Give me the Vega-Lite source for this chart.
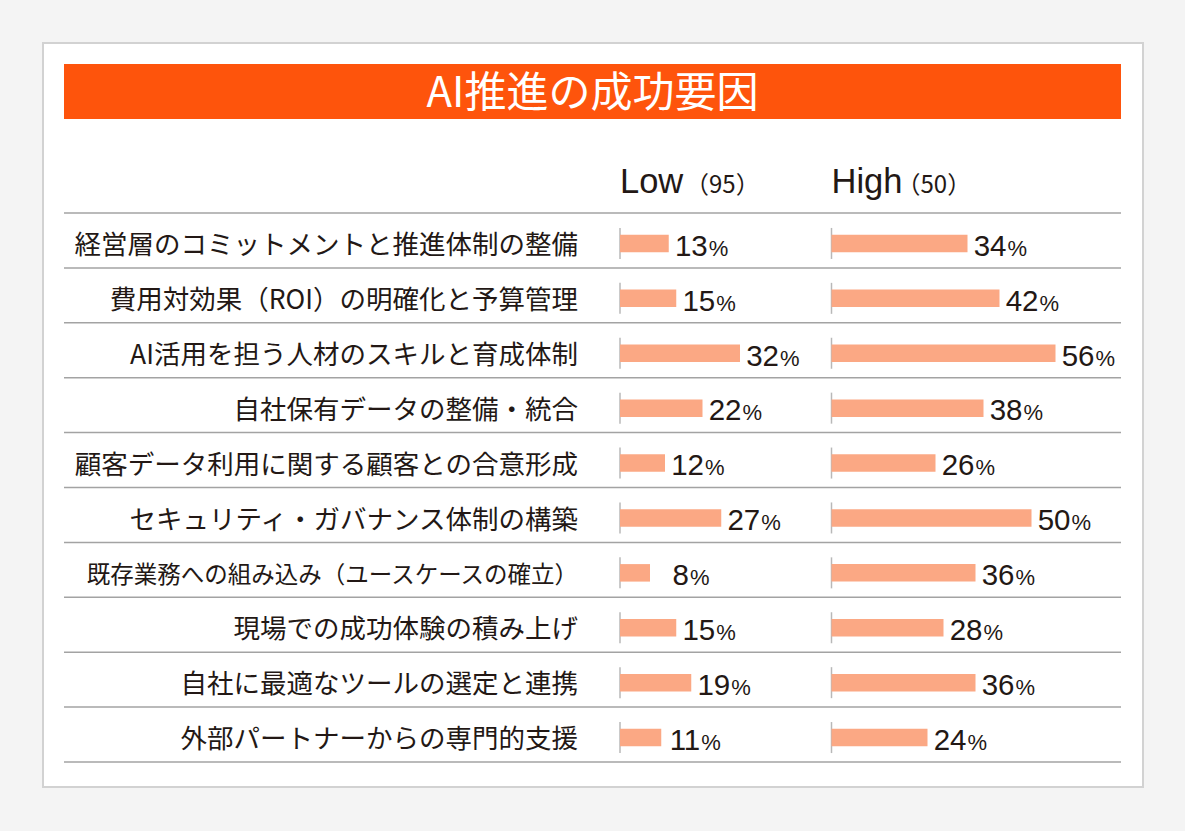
{
  "$schema": "https://vega.github.io/schema/vega-lite/v6.json",
  "width": 1100,
  "height": 744,
  "autosize": {"type": "none"},
  "padding": {"left": 43, "top": 43, "right": 42, "bottom": 44},
  "background": "#f4f4f4",
  "config": {
    "view": {"fill": "#ffffff", "stroke": "#d2d2d2", "strokeWidth": 2},
    "axis": {"disable": true}
  },
  "datasets": {
    "title": [{"title": "AI推進の成功要因"}],
    "groups": [{"group": "Low", "n": "（95）"}, {"group": "High", "n": "（50）"}],
    "rows": [
      {"item": "経営層のコミットメントと推進体制の整備", "group": "Low", "value": 13},
      {"item": "経営層のコミットメントと推進体制の整備", "group": "High", "value": 34},
      {"item": "費用対効果（ROI）の明確化と予算管理", "group": "Low", "value": 15},
      {"item": "費用対効果（ROI）の明確化と予算管理", "group": "High", "value": 42},
      {"item": "AI活用を担う人材のスキルと育成体制", "group": "Low", "value": 32},
      {"item": "AI活用を担う人材のスキルと育成体制", "group": "High", "value": 56},
      {"item": "自社保有データの整備・統合", "group": "Low", "value": 22},
      {"item": "自社保有データの整備・統合", "group": "High", "value": 38},
      {"item": "顧客データ利用に関する顧客との合意形成", "group": "Low", "value": 12},
      {"item": "顧客データ利用に関する顧客との合意形成", "group": "High", "value": 26},
      {"item": "セキュリティ・ガバナンス体制の構築", "group": "Low", "value": 27},
      {"item": "セキュリティ・ガバナンス体制の構築", "group": "High", "value": 50},
      {"item": "既存業務への組み込み（ユースケースの確立）", "group": "Low", "value": 8},
      {"item": "既存業務への組み込み（ユースケースの確立）", "group": "High", "value": 36},
      {"item": "現場での成功体験の積み上げ", "group": "Low", "value": 15},
      {"item": "現場での成功体験の積み上げ", "group": "High", "value": 28},
      {"item": "自社に最適なツールの選定と連携", "group": "Low", "value": 19},
      {"item": "自社に最適なツールの選定と連携", "group": "High", "value": 36},
      {"item": "外部パートナーからの専門的支援", "group": "Low", "value": 11},
      {"item": "外部パートナーからの専門的支援", "group": "High", "value": 24}
    ]
  },
  "resolve": {"scale": {"x": "independent", "y": "independent"}},
  "layer": [
    {
      "data": {"name": "title"},
      "layer": [
        {
          "mark": {"type": "rect", "color": "#fe540c"},
          "encoding": {
            "x": {"datum": 0, "type": "quantitative", "scale": {"domain": [0, 1], "range": [21, 1078]}},
            "x2": {"datum": 1},
            "y": {"datum": 0, "type": "quantitative", "scale": {"domain": [0, 1], "range": [21, 76]}},
            "y2": {"datum": 1}
          }
        },
        {
          "mark": {"type": "text", "color": "#ffffff", "font": "Noto Sans CJK JP", "fontSize": 42, "fontWeight": 400, "align": "center", "baseline": "alphabetic", "dy": 15.5},
          "encoding": {
            "x": {"datum": 0.5, "type": "quantitative", "scale": {"domain": [0, 1], "range": [21, 1078]}},
            "y": {"datum": 0.5, "type": "quantitative", "scale": {"domain": [0, 1], "range": [21, 76]}},
            "text": {"field": "title", "type": "nominal"}
          }
        }
      ]
    },
    {
      "data": {"name": "rows"},
      "encoding": {
        "y": {
          "field": "item",
          "type": "nominal",
          "scale": {
            "domain": ["header", "経営層のコミットメントと推進体制の整備", "費用対効果（ROI）の明確化と予算管理", "AI活用を担う人材のスキルと育成体制", "自社保有データの整備・統合", "顧客データ利用に関する顧客との合意形成", "セキュリティ・ガバナンス体制の構築", "既存業務への組み込み（ユースケースの確立）", "現場での成功体験の積み上げ", "自社に最適なツールの選定と連携", "外部パートナーからの専門的支援"],
            "range": [115.1, 719],
            "paddingInner": 0,
            "paddingOuter": 0
          }
        }
      },
      "resolve": {"scale": {"x": "independent"}},
      "layer": [
        {
          "transform": [{"filter": "datum.group === 'Low'"}],
          "mark": {"type": "rule", "color": "#a3a3a3", "strokeWidth": 1.5},
          "encoding": {
            "y": {"field": "item", "type": "nominal", "bandPosition": 0},
            "x": {"datum": 0, "type": "quantitative", "scale": {"domain": [0, 1], "range": [21, 1078]}},
            "x2": {"datum": 1}
          }
        },
        {
          "transform": [{"filter": "datum.group === 'Low' && datum.item === '外部パートナーからの専門的支援'"}],
          "mark": {"type": "rule", "color": "#a3a3a3", "strokeWidth": 1.5},
          "encoding": {
            "y": {"field": "item", "type": "nominal", "bandPosition": 1},
            "x": {"datum": 0, "type": "quantitative", "scale": {"domain": [0, 1], "range": [21, 1078]}},
            "x2": {"datum": 1}
          }
        },
        {
          "data": {"name": "groups"},
          "mark": {"type": "text", "font": "Liberation Sans", "fontSize": 34.5, "color": "#231815", "align": "left", "baseline": "alphabetic", "dx": 0, "dy": 7.4},
          "encoding": {
            "y": {"datum": "header", "type": "nominal"},
            "x": {"field": "group", "type": "nominal", "scale": {"type": "point", "domain": ["Low", "High"], "range": [577, 788.5], "padding": 0}},
            "text": {"field": "group", "type": "nominal"}
          }
        },
        {
          "data": {"name": "groups"},
          "mark": {"type": "text", "font": "Noto Sans CJK JP", "fontSize": 24, "color": "#231815", "align": "left", "baseline": "alphabetic", "dx": 65, "dy": 7.4},
          "encoding": {
            "y": {"datum": "header", "type": "nominal"},
            "x": {"field": "group", "type": "nominal", "scale": {"type": "point", "domain": ["Low", "High"], "range": [577, 788.5], "padding": 0}},
            "text": {"field": "n", "type": "nominal"}
          }
        },
        {
          "transform": [{"filter": "datum.group === 'Low'"}],
          "mark": {"type": "text", "font": "Noto Sans CJK JP", "color": "#231815", "align": "right", "baseline": "alphabetic", "dx": -42, "dy": 13.6},
          "encoding": {
            "x": {"datum": "Low", "type": "nominal", "scale": {"type": "point", "domain": ["Low", "High"], "range": [577, 788.5], "padding": 0}},
            "text": {"field": "item", "type": "nominal"},
            "size": {"condition": {"test": "datum.item === '既存業務への組み込み（ユースケースの確立）'", "value": 23.5}, "value": 26.5}
          }
        },
        {
          "mark": {"type": "tick", "orient": "vertical", "color": "#9a9a9a", "size": 31, "thickness": 1.5, "yOffset": 3},
          "encoding": {
            "x": {"field": "group", "type": "nominal", "scale": {"type": "point", "domain": ["Low", "High"], "range": [577, 788.5], "padding": 0}}
          }
        },
        {
          "transform": [{"filter": "datum.group === 'Low'"}],
          "mark": {"type": "bar", "color": "#fba884", "height": 17.5, "yOffset": 3},
          "encoding": {
            "x": {"field": "value", "type": "quantitative", "scale": {"domain": [0, 100], "range": [577, 952]}}
          }
        },
        {
          "transform": [{"filter": "datum.group === 'High'"}],
          "mark": {"type": "bar", "color": "#fba884", "height": 17.5, "yOffset": 3},
          "encoding": {
            "x": {"field": "value", "type": "quantitative", "scale": {"domain": [0, 100], "range": [788.5, 1188.5]}}
          }
        },
        {
          "transform": [{"filter": "datum.group === 'Low'"}],
          "mark": {"type": "text", "font": "Liberation Sans", "fontSize": 29.5, "color": "#231815", "align": "right", "baseline": "alphabetic", "dx": 39, "dy": 15.3},
          "encoding": {
            "x": {"field": "value", "type": "quantitative", "scale": {"domain": [0, 100], "range": [577, 952]}},
            "text": {"field": "value", "type": "quantitative", "format": "d"}
          }
        },
        {
          "transform": [{"filter": "datum.group === 'Low'"}],
          "mark": {"type": "text", "font": "Liberation Sans", "fontSize": 22, "color": "#231815", "align": "left", "baseline": "alphabetic", "dx": 40, "dy": 15.3},
          "encoding": {
            "x": {"field": "value", "type": "quantitative", "scale": {"domain": [0, 100], "range": [577, 952]}},
            "text": {"value": "%"}
          }
        },
        {
          "transform": [{"filter": "datum.group === 'High'"}],
          "mark": {"type": "text", "font": "Liberation Sans", "fontSize": 29.5, "color": "#231815", "align": "right", "baseline": "alphabetic", "dx": 39, "dy": 15.3},
          "encoding": {
            "x": {"field": "value", "type": "quantitative", "scale": {"domain": [0, 100], "range": [788.5, 1188.5]}},
            "text": {"field": "value", "type": "quantitative", "format": "d"}
          }
        },
        {
          "transform": [{"filter": "datum.group === 'High'"}],
          "mark": {"type": "text", "font": "Liberation Sans", "fontSize": 22, "color": "#231815", "align": "left", "baseline": "alphabetic", "dx": 40, "dy": 15.3},
          "encoding": {
            "x": {"field": "value", "type": "quantitative", "scale": {"domain": [0, 100], "range": [788.5, 1188.5]}},
            "text": {"value": "%"}
          }
        }
      ]
    }
  ]
}
